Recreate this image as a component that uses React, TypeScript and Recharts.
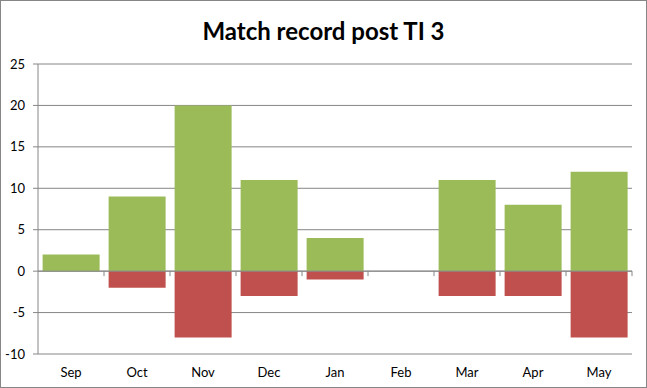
import React from "react";
import {
  BarChart,
  Bar,
  XAxis,
  YAxis,
  CartesianGrid,
  ReferenceLine,
} from "recharts";

const months = ["Sep", "Oct", "Nov", "Dec", "Jan", "Feb", "Mar", "Apr", "May"];
const wins = [2, 9, 20, 11, 4, 0, 11, 8, 12];
const losses = [0, -2, -8, -3, -1, 0, -3, -3, -8];
const yTicks = [-10, -5, 0, 5, 10, 15, 20, 25];

const data = months.map((m, i) => ({ name: m, win: wins[i], loss: losses[i] }));

const GRID = "#868686";
const FONT = "Lato, 'Open Sans', sans-serif";

// zero line with the little category-boundary ticks Excel draws under it
const ZeroAxis = (props: any) => {
  const { x1, x2, y1 } = props;
  const n = months.length;
  const step = (x2 - x1) / n;
  return (
    <g>
      <line x1={x1} x2={x2} y1={y1} y2={y1} stroke={GRID} strokeWidth={1} />
      {months.map((_, i) => (
        <line
          key={i}
          x1={x1 + step * (i + 1)}
          x2={x1 + step * (i + 1)}
          y1={y1}
          y2={y1 + 5}
          stroke={GRID}
          strokeWidth={1}
        />
      ))}
    </g>
  );
};

const App: React.FC = () => {
  return (
    <div
      style={{
        position: "absolute",
        left: 0,
        top: 0,
        width: 647,
        height: 388,
        boxSizing: "border-box",
        border: "1px solid #868686",
        background: "#fff",
        fontFamily: FONT,
      }}
    >
      <div
        style={{
          position: "absolute",
          left: 0,
          right: 0,
          top: 15,
          textAlign: "center",
          fontSize: 24,
          fontWeight: 700,
          color: "#000",
        }}
      >
        Match record post TI 3
      </div>
      <BarChart
        width={645}
        height={386}
        data={data}
        stackOffset="sign"
        barCategoryGap="7%"
        margin={{ top: 63, right: 14, bottom: 3, left: 0 }}
      >
        <CartesianGrid vertical={false} stroke={GRID} strokeDasharray="" />
        <XAxis
          dataKey="name"
          axisLine={false}
          tickLine={false}
          tickSize={0}
          tickMargin={14}
          height={30}
          tick={{ fill: "#000", fontSize: 13, fontFamily: FONT }}
        />
        <YAxis
          domain={[-10, 25]}
          ticks={yTicks}
          interval={0}
          width={37}
          axisLine={{ stroke: GRID }}
          tickLine={{ stroke: GRID }}
          tickSize={5}
          tickMargin={8}
          tick={{ fill: "#000", fontSize: 13, fontFamily: FONT }}
        />
        <Bar dataKey="win" stackId="a" fill="#9BBB59" isAnimationActive={false} />
        <Bar dataKey="loss" stackId="a" fill="#C0504D" isAnimationActive={false} />
        <ReferenceLine y={0} shape={ZeroAxis} />
      </BarChart>
    </div>
  );
};

export default App;
